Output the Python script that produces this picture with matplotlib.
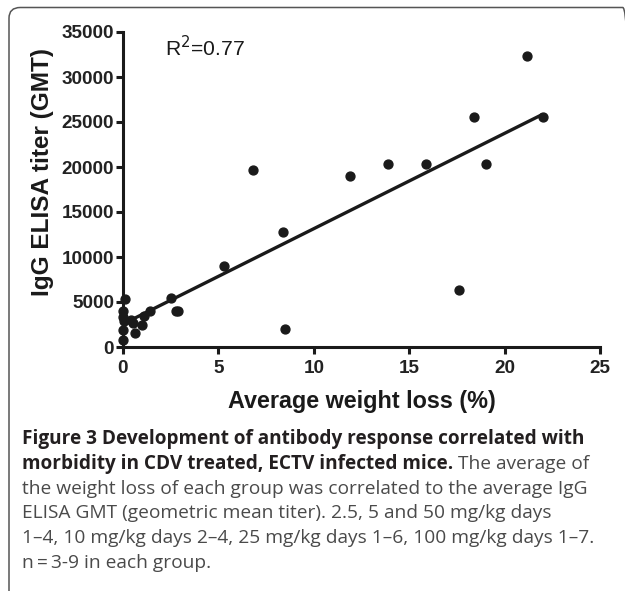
import numpy as np
import matplotlib
matplotlib.use("Agg")
import matplotlib.pyplot as plt
from matplotlib.patches import FancyBboxPatch

# average weight loss (%) vs IgG ELISA GMT
weight_loss = [0.1, 0.0, 0.0, 0.05, 0.0, 0.0, 0.4, 0.55, 0.65, 1.0, 1.1, 1.4,
               2.5, 2.8, 2.9, 5.3, 6.8, 8.4, 8.5, 11.9, 13.9, 15.9, 17.6,
               18.4, 19.0, 21.2, 22.0]
igg_gmt = [5300, 4000, 3300, 2900, 1900, 800, 3000, 2700, 1600, 2500, 3500,
           4000, 5400, 4000, 4000, 9000, 19700, 12800, 2000, 19000, 20300,
           20300, 6300, 25600, 20300, 32300, 25600]

x_ticks = [0, 5, 10, 15, 20, 25]
y_ticks = [0, 5000, 10000, 15000, 20000, 25000, 30000, 35000]
r2_label = "R$^2$=0.77"

caption_lines = [
    [("Figure 3 Development of antibody response correlated with", "bold")],
    [("morbidity in CDV treated, ECTV infected mice.", "bold"),
     (" The average of", "normal")],
    [("the weight loss of each group was correlated to the average IgG", "normal")],
    [("ELISA GMT (geometric mean titer). 2.5, 5 and 50 mg/kg days", "normal")],
    [("1\u20134, 10 mg/kg days 2\u20134, 25 mg/kg days 1\u20136, 100 mg/kg days 1\u20137.", "normal")],
    [("n\u2009=\u20093-9 in each group.", "normal")],
]

W, H, DPI = 625, 591, 100
fig = plt.figure(figsize=(W / DPI, H / DPI), dpi=DPI)
plt.rcParams["font.family"] = ["Liberation Sans", "DejaVu Sans"]
dark = "#1a1a1a"

# frame around figure + caption
box = FancyBboxPatch((9 / W, -0.02), 1.0, 1.0 - 7.5 / H + 0.02,
                     boxstyle="round,pad=0,rounding_size=0.018",
                     transform=fig.transFigure, fill=False,
                     edgecolor="#555555", linewidth=1.1, clip_on=False)
fig.patches.append(box)

ax = fig.add_axes([123 / W, 244 / H, (600 - 123) / W, (559 - 244) / H])

xs = np.array(weight_loss)
ys = np.array(igg_gmt)
slope, intercept = np.polyfit(xs, ys, 1)
fit_x = np.array([xs.min(), xs.max()])
ax.plot(fit_x, slope * fit_x + intercept, color=dark, linewidth=2.4,
        solid_capstyle="butt", zorder=2, clip_on=False)
ax.plot(xs, ys, "o", color=dark, markersize=6.4, zorder=3, clip_on=False)

ax.set_xlim(0, 25)
ax.set_ylim(0, 35000)
ax.set_xticks(x_ticks)
ax.set_yticks(y_ticks)
for side in ["top", "right"]:
    ax.spines[side].set_visible(False)
for side in ["left", "bottom"]:
    ax.spines[side].set_linewidth(2.2)
    ax.spines[side].set_color(dark)
ax.tick_params(direction="out", length=5, width=2.2, color=dark, labelsize=13.6)
ax.tick_params(axis="x", pad=4.5)
ax.tick_params(axis="y", pad=1.5)
for lab in ax.get_xticklabels() + ax.get_yticklabels():
    lab.set_fontweight("bold")
    lab.set_color("#222222")

ax.set_xlabel("Average weight loss (%)", fontsize=16.8, fontweight="bold",
              color=dark, labelpad=9)
ax.set_ylabel("IgG ELISA titer (GMT)", fontsize=17.6, fontweight="bold",
              color=dark)
ax.yaxis.set_label_coords(-0.145, 0.554)
ax.text(2.2, 33300, r2_label, fontsize=15.2, color=dark, va="center")

# caption, laid out line by line; sizes fitted to the widths in the original
fig.canvas.draw()
renderer = fig.canvas.get_renderer()
cap_font = ["Open Sans", "DejaVu Sans"]
colors = {"bold": "#231f20", "normal": "#4a4a4a"}
target = {"bold": (caption_lines[0][0][0], 561), "normal": (caption_lines[4][0][0], 570)}
sizes = {}
for weight, (txt, width_px) in target.items():
    probe = fig.text(0, 0, txt, fontsize=12, fontweight=weight, family=cap_font)
    w = probe.get_window_extent(renderer).width
    sizes[weight] = 12 * width_px / w
    probe.remove()

x0 = 22
y_first = 591 - 439
step = 24.8
for i, segments in enumerate(caption_lines):
    x = x0
    y = y_first - i * step
    for txt, weight in segments:
        t = fig.text(x / W, y / H, txt, fontsize=sizes[weight], fontweight=weight,
                     family=cap_font, color=colors[weight],
                     va="center", ha="left")
        x += t.get_window_extent(renderer).width

fig.savefig("out.png", dpi=DPI)
